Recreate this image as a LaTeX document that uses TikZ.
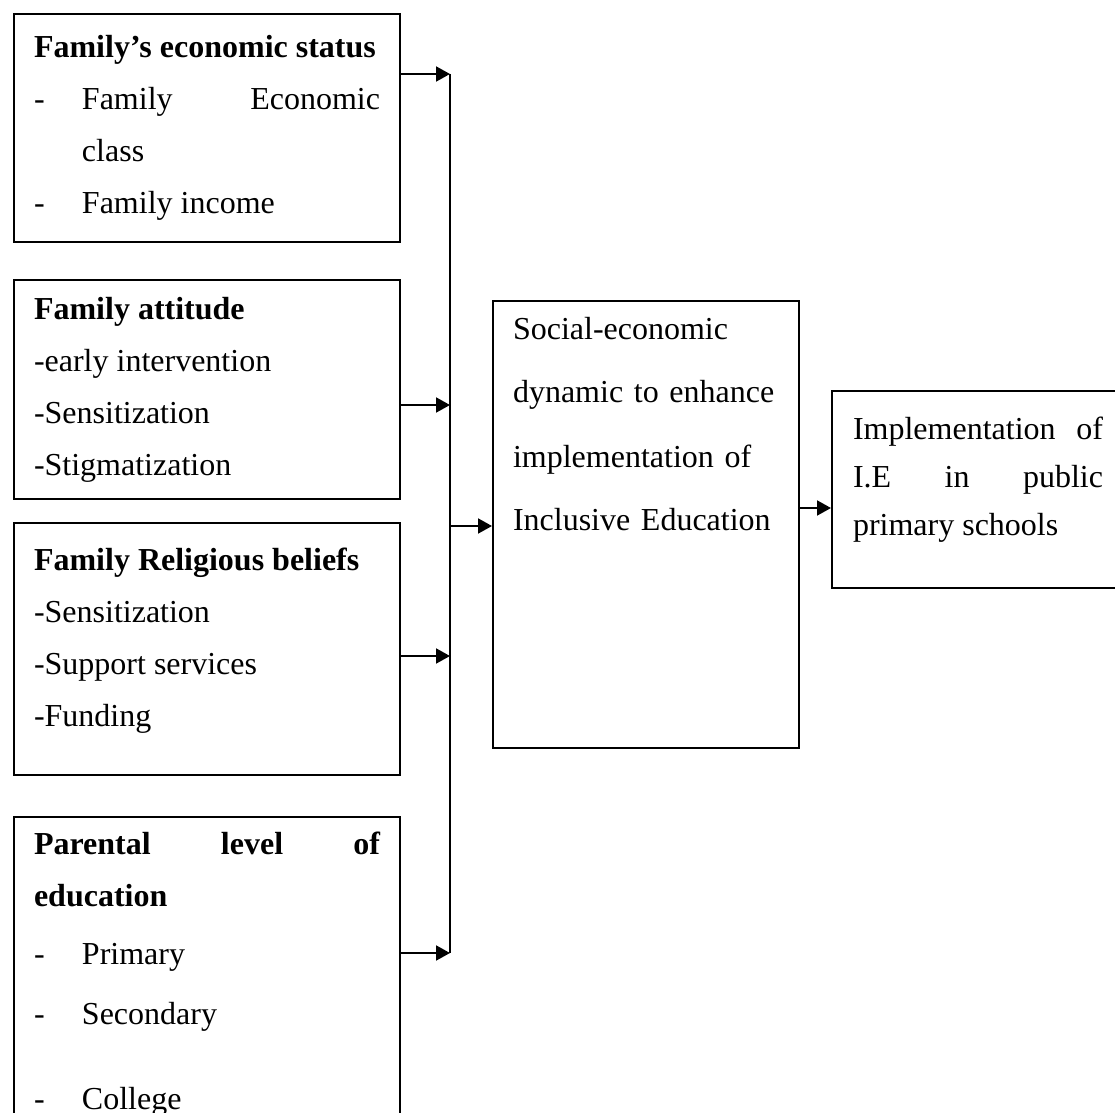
\documentclass[tikz,border=0pt]{standalone}
\usepackage{fontspec}
\setmainfont{Liberation Serif}
\usetikzlibrary{arrows.meta,positioning}
\hyphenpenalty=10000
\exhyphenpenalty=10000
\newcommand{\dashitem}{\makebox[24pt][l]{-}}

\begin{document}
\begin{tikzpicture}[x=0.5pt, y=-0.5pt,
factor/.style={rectangle, draw=black, line width=1pt, text width=173pt, inner xsep=10pt, align=justify, font=\fontsize{16}{26}\selectfont},
dynamic/.style={rectangle, draw=black, line width=1pt, text width=133pt, inner xsep=10pt, inner ysep=7pt, text height=12pt, text depth=197.5pt, align=left, anchor=north west, font=\fontsize{16}{32}\selectfont},
outcome/.style={rectangle, draw=black, line width=1pt, text width=125pt, inner xsep=10.5pt, inner ysep=12pt, text height=12pt, text depth=62.5pt, align=justify, anchor=north west, font=\fontsize{16}{24}\selectfont},
link/.style={-{Triangle[length=7pt, width=7.5pt]}, line width=1pt}]

\useasboundingbox (0,0) rectangle (1115,1113);

\node[factor, anchor=north west, minimum height=114pt] (econ) at (13,13) {\textbf{Family's economic status}\par\hangindent=24pt\hangafter=1\dashitem Family Economic\linebreak class\par\dashitem Family income};

\node[factor, below=18pt of econ, minimum height=109.5pt] (attitude) {\textbf{Family attitude}\par-early intervention\par-Sensitization\par-Stigmatization};

\node[factor, below=11pt of attitude, minimum height=126pt, text depth=89.5pt] (religion) {\textbf{Family Religious beliefs}\par-Sensitization\par-Support services\par-Funding};

\node[factor, below=20pt of religion, minimum height=157pt] (parent) {\textbf{Parental level of education}\par\vspace{3pt}\dashitem Primary\par\vspace{4pt}\dashitem Secondary\par\vspace{16.5pt}\dashitem College};

\node[dynamic] (mid) at (492,300) {Social-economic\\dynamic to enhance\\implementation of\\Inclusive Education};

\node[outcome] (impl) at (831,390) {Implementation of\linebreak I.E in public\linebreak primary schools};

\coordinate (b1) at (450,74);
\coordinate (b2) at (450,405);
\coordinate (b3) at (450,656);
\coordinate (b4) at (450,953);
\coordinate (bm) at (450,526);
\coordinate (ra) at (0,508);

\draw[line width=1pt] (b1) -- (b4);

\draw[link] (econ.east |- b1) -- (b1);

\draw[link] (attitude.east |- b2) -- (b2);

\draw[link] (religion.east |- b3) -- (b3);

\draw[link] (parent.east |- b4) -- (b4);

\draw[link] (bm) -- (mid.west |- bm);

\draw[link] (mid.east |- ra) -- (impl.west |- ra);

\end{tikzpicture}
\end{document}
